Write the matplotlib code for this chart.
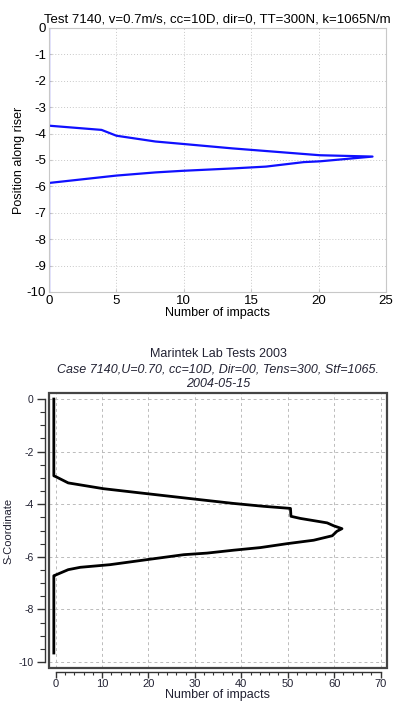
import matplotlib
matplotlib.use("Agg")
import matplotlib.pyplot as plt
from matplotlib.ticker import MultipleLocator
from matplotlib.patches import Rectangle

plt.rcParams['font.family'] = ['Liberation Sans', 'DejaVu Sans']
plt.rcParams['axes.unicode_minus'] = False

# ---- Top chart data (Test 7140) ----
top_impacts = [0, 0, 3.9, 5.0, 7.9, 9.9, 13.6, 16.6, 20.1, 24.0, 20.1, 18.9, 16.1, 13.6, 9.9, 7.9, 5.0, 0, 0]
top_position = [0, -3.70, -3.86, -4.08, -4.30, -4.39, -4.56, -4.68, -4.82, -4.87, -5.05, -5.08, -5.25, -5.32, -5.41, -5.47, -5.59, -5.87, -10]
top_title = "Test 7140, v=0.7m/s, cc=10D, dir=0, TT=300N, k=1065N/m"
top_xticks = [0, 5, 10, 15, 20, 25]
top_yticks = list(range(0, -11, -1))

# ---- Bottom chart data (Marintek) ----
bot_impacts = [-0.4, -0.4, 0.0, 2.7, 10.3, 18.2, 24.7, 31.2, 38.3, 44.8, 50.6, 50.7, 52.7, 58.5, 59.9, 61.7,
               60.6, 59.6, 55.6, 49.9, 44.1, 38.3, 32.6, 27.6, 19.6, 11.7, 5.3, 2.7, -0.1, -0.4, -0.4]
bot_position = [0.0, -2.92, -2.95, -3.19, -3.41, -3.57, -3.70, -3.83, -3.97, -4.08, -4.16, -4.46, -4.54, -4.71, -4.82, -4.93,
                -5.03, -5.20, -5.37, -5.50, -5.65, -5.75, -5.86, -5.92, -6.11, -6.30, -6.40, -6.49, -6.70, -6.72, -9.66]
bot_title1 = "Marintek Lab Tests 2003"
bot_title2 = "Case 7140,U=0.70, cc=10D, Dir=00, Tens=300, Stf=1065."
bot_title3 = "2004-05-15"
bot_xticks = [0, 10, 20, 30, 40, 50, 60, 70]
bot_yticks = [0, -2, -4, -6, -8, -10]

fig = plt.figure(figsize=(3.96, 7.04), dpi=100)

# ================= Top =================
ax1 = fig.add_axes([49/396, 1-292/704, (386-49)/396, (292-28)/704])
ax1.plot(top_impacts, top_position, color='#1010ff', lw=1.6)
ax1.set_xlim(0, 25)
ax1.set_ylim(-10, 0)
ax1.set_xticks(top_xticks)
ax1.set_yticks(top_yticks)
ax1.grid(True, linestyle=(0, (1, 2)), color='#c8c8c8', lw=0.7)
for s in ax1.spines.values():
    s.set_color('#c8c8c8')
    s.set_linewidth(0.8)
ax1.tick_params(direction='in', length=2, color='#c8c8c8', labelsize=9.5, pad=2)
ax1.set_title(top_title, fontsize=9.5, pad=4)
ax1.set_xlabel("Number of impacts", fontsize=9, labelpad=0)
ax1.set_ylabel("Position along riser", fontsize=9, labelpad=1)

# ================= Bottom =================
txtc = '#222233'
ax2 = fig.add_axes([49/396, 1-668/704, (387-49)/396, (668-393)/704])
ax2.plot(bot_impacts, bot_position, color='black', lw=2.0)
ax2.set_xlim(-1.44, 71.4)
ax2.set_ylim(-10.23, 0.23)
ax2.set_xticks(bot_xticks)
ax2.set_yticks(bot_yticks)
ax2.xaxis.set_minor_locator(MultipleLocator(2))
ax2.yaxis.set_minor_locator(MultipleLocator(0.5))
ax2.grid(True, which='major', linestyle=(0, (3, 3)), color='#bbbbbb', lw=0.7)
ax2.spines['top'].set_visible(False)
ax2.spines['right'].set_visible(False)
ax2.spines['left'].set_position(('outward', 3))
ax2.spines['bottom'].set_position(('outward', 3))
ax2.spines['left'].set_bounds(-10, 0)
ax2.spines['bottom'].set_bounds(0, 70)
for k in ('left', 'bottom'):
    ax2.spines[k].set_color('#333333')
    ax2.spines[k].set_linewidth(1.0)
ax2.add_patch(Rectangle((0, 0), 1, 1, transform=ax2.transAxes, fill=False,
                        edgecolor='#444444', lw=1.6, clip_on=False, zorder=5))
ax2.tick_params(axis='y', which='major', direction='out', length=6, width=1.0, color='#333333',
                labelsize=7.5, labelcolor=txtc, pad=2)
ax2.tick_params(axis='y', which='minor', direction='out', length=3.5, width=0.8, color='#333333')
ax2.tick_params(axis='x', which='major', direction='out', length=4, width=1.0, color='#333333',
                labelsize=8, labelcolor=txtc, pad=1)
ax2.tick_params(axis='x', which='minor', direction='out', length=2, width=0.8, color='#333333')
ax2.set_xlabel("Number of impacts", fontsize=9, color=txtc, labelpad=0)
ax2.set_ylabel("S-Coordinate", fontsize=8, color=txtc, labelpad=4)

cx = (49 + 387) / 2 / 396
fig.text(cx, 1 - 354/704, bot_title1, ha='center', va='center', fontsize=9, color=txtc)
fig.text(cx, 1 - 369/704, bot_title2, ha='center', va='center', fontsize=9, color=txtc, style='italic')
fig.text(cx, 1 - 383.5/704, bot_title3, ha='center', va='center', fontsize=9, color=txtc, style='italic')

fig.savefig("out.png", dpi=100)
